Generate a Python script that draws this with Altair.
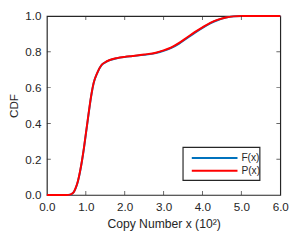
import altair as alt
import pandas as pd

x_vals = [0.0, 0.5, 0.6, 0.65, 0.7, 0.75, 0.8, 0.85, 0.9, 0.95, 1.0, 1.05, 1.1, 1.15, 1.2,
          1.3, 1.4, 1.5, 1.6, 1.8, 2.0, 2.2, 2.5, 2.8, 3.0, 3.2, 3.4, 3.6, 3.8, 4.0,
          4.2, 4.4, 4.6, 4.8, 5.0, 6.0]
p_vals = [0.0, 0.0, 0.002, 0.008, 0.02, 0.045, 0.08, 0.13, 0.19, 0.26, 0.34, 0.42, 0.50, 0.57, 0.625,
          0.685, 0.725, 0.742, 0.753, 0.765, 0.772, 0.777, 0.785, 0.795, 0.808, 0.825, 0.85, 0.88, 0.91, 0.937,
          0.962, 0.98, 0.992, 0.998, 1.0, 1.0]
f_vals = [0.0, 0.0, 0.002, 0.007, 0.019, 0.043, 0.078, 0.127, 0.187, 0.257, 0.337, 0.417, 0.497, 0.567, 0.623,
          0.684, 0.724, 0.741, 0.752, 0.764, 0.771, 0.776, 0.783, 0.793, 0.805, 0.822, 0.846, 0.876, 0.906, 0.934,
          0.959, 0.978, 0.991, 0.998, 1.0, 1.0]
series = ["F(x)", "P(x)"]
colors = ["#0072BD", "#FF0000"]
x_ticks = [1, 2, 3, 4, 5]
y_ticks = [0.2, 0.4, 0.6, 0.8]
x_labels = [0, 1, 2, 3, 4, 5, 6]
y_labels = [0, 0.2, 0.4, 0.6, 0.8, 1.0]

W, H = 240, 184
FONT = "Liberation Sans"
INK = "#262626"
XT = "Copy Number x (10²)"

rows = []
for s, vals in zip(series, [f_vals, p_vals]):
    for xv, yv in zip(x_vals, vals):
        rows.append({"x": xv, "y": yv, "series": s})
df = pd.DataFrame(rows)

xscale = alt.Scale(domain=[0, 6], nice=False)
yscale = alt.Scale(domain=[0, 1], nice=False)
xaxis = alt.Axis(title=XT, values=x_labels, format=".1f",
                 grid=False, domain=False, ticks=False, tickSize=0, labelPadding=7,
                 labelOverlap=False, labelFlush=False, labelBound=False, titlePadding=5)
yaxis = alt.Axis(title="CDF", values=y_labels, format=".1f",
                 grid=False, domain=False, ticks=False, tickSize=0, labelPadding=6,
                 labelOverlap=False, labelFlush=False, labelBound=False, titlePadding=5,
                 titleFontSize=12)

lines = alt.Chart(df).mark_line(strokeWidth=2, interpolate="monotone").encode(
    x=alt.X("x:Q", scale=xscale, axis=xaxis, title=XT),
    y=alt.Y("y:Q", scale=yscale, axis=yaxis, title="CDF"),
    color=alt.Color("series:N", scale=alt.Scale(domain=series, range=colors), legend=None),
    order=alt.Order("series:N"),
)

xt = pd.DataFrame({"x": x_ticks})
yt = pd.DataFrame({"y": y_ticks})

def tick(d, **kw):
    return alt.Chart(d).mark_tick(clip=True, size=8, thickness=1, color=INK, **kw)

xticks_b = tick(xt, orient="vertical").encode(
    x=alt.X("x:Q", scale=xscale, axis=xaxis, title=XT), y=alt.value(H))
xticks_t = tick(xt, orient="vertical").encode(
    x=alt.X("x:Q", scale=xscale, axis=xaxis, title=XT), y=alt.value(0))
yticks_l = tick(yt, orient="horizontal").encode(
    y=alt.Y("y:Q", scale=yscale, axis=yaxis, title="CDF"), x=alt.value(0))
yticks_r = tick(yt, orient="horizontal").encode(
    y=alt.Y("y:Q", scale=yscale, axis=yaxis, title="CDF"), x=alt.value(W))

# legend drawn by hand
lx0, lx1, ly0, ly1 = 140, 219, 135, 169
one = pd.DataFrame({"a": [0]})
leg_box = alt.Chart(one).mark_rect(fill="white", stroke=INK, strokeWidth=1.2).encode(
    x=alt.value(lx0), x2=alt.value(lx1), y=alt.value(ly0), y2=alt.value(ly1))
leg_layers = [leg_box]
for i, (s, c) in enumerate(zip(series, colors)):
    yy = 146 + i * 13
    leg_layers.append(alt.Chart(one).mark_rule(color=c, strokeWidth=2).encode(
        x=alt.value(149), x2=alt.value(196), y=alt.value(yy)))
    leg_layers.append(alt.Chart(pd.DataFrame({"t": [s]})).mark_text(
        align="left", baseline="middle", font=FONT, fontSize=10.5, color=INK).encode(
        x=alt.value(200), y=alt.value(yy), text="t:N"))

chart = alt.layer(lines, xticks_b, xticks_t, yticks_l, yticks_r, *leg_layers).properties(
    width=W, height=H,
    autosize=alt.AutoSizeParams(type="none"),
    padding={"left": 40, "top": 5, "right": 10, "bottom": 42},
    background="white",
).configure_view(stroke=INK, strokeWidth=1.2).configure_axis(
    labelFont=FONT, labelFontSize=12, labelColor=INK,
    titleFont=FONT, titleFontSize=12.5, titleColor=INK, titleFontWeight="normal",
)

chart.save("out.html", embed_options={"renderer": "svg", "actions": False})
